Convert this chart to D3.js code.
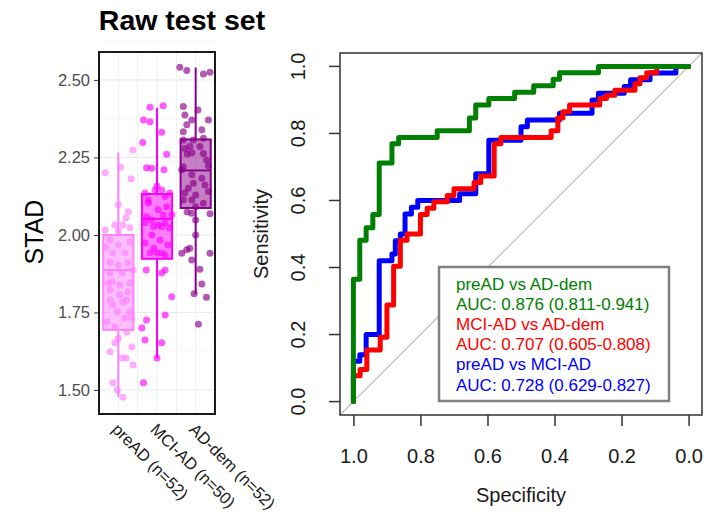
<!DOCTYPE html>
<html>
<head>
<meta charset="utf-8">
<script src="https://cdn.jsdelivr.net/npm/d3@7"></script>
<style>
  body { margin: 0; background: #fff; }
  svg { font-family: "Liberation Sans", Arial, sans-serif; }
</style>
</head>
<body>
<div id="chart"></div>
<script>
// ---- boxplot data (STAD per group) ----
const groups = ["preAD (n=52)", "MCI-AD (n=50)", "AD-dem (n=52)"];
const groupColors = ["#ff80ff", "#ff00ff", "#8b008b"];
const whiskerLow = [1.477, 1.603, 1.810];
const boxQ1 = [1.694, 1.923, 2.087];
const boxMedian = [1.887, 2.052, 2.208];
const boxQ3 = [2.000, 2.132, 2.308];
const whiskerHigh = [2.266, 2.410, 2.540];
const stadTicks = [1.50, 1.75, 2.00, 2.25, 2.50];

// jittered points: value and jitter (fraction of category step)
const preADValues = [2.201, 2.218, 2.274, 2.181, 2.097, 2.075, 2.055, 2.032, 2.016, 2.032,
  2.023, 1.984, 1.968, 1.942, 1.942, 1.911, 1.903, 1.910, 1.887, 1.877,
  1.877, 1.848, 1.839, 1.823, 1.816, 1.790, 1.784, 1.790, 1.752, 1.752,
  1.732, 1.719, 1.703, 1.687, 1.668, 1.652, 1.639, 1.623, 1.603, 1.603,
  1.581, 1.523, 1.500, 1.477, 1.961, 1.977, 1.806, 1.845, 1.732, 1.774,
  1.845, 2.013];
const preADJitter = [-0.34, 0.06, 0.38, 0.33, 0.00, 0.26, 0.20, -0.09, -0.34, 0.12,
  0.30, -0.21, 0.00, -0.14, 0.17, -0.21, 0.00, 0.25, 0.38, -0.21,
  0.10, -0.16, 0.04, -0.21, 0.25, -0.21, 0.12, 0.22, -0.03, 0.30,
  0.35, -0.29, -0.09, 0.22, 0.00, -0.09, 0.35, -0.21, 0.10, 0.20,
  0.38, -0.14, -0.03, 0.12, -0.32, 0.30, 0.04, -0.26, 0.17, -0.14,
  0.30, 0.00];
const mciValues = [2.412, 2.417, 2.371, 2.365, 2.331, 2.298, 2.260, 2.217, 2.215, 2.210,
  2.158, 2.145, 2.145, 2.135, 2.135, 2.124, 2.103, 2.091, 2.059, 2.065,
  2.065, 2.048, 2.039, 2.032, 2.027, 2.027, 2.039, 1.974, 1.942, 1.942,
  1.942, 1.935, 1.887, 1.887, 1.877, 1.801, 1.726, 1.742, 1.700, 1.661,
  1.652, 1.603, 1.523, 1.984, 2.000, 1.968, 2.113, 2.081, 1.958, 2.023];
const mciJitter = [-0.18, 0.16, -0.35, -0.18, 0.12, -0.37, 0.25, -0.27, -0.14, 0.18,
  0.00, -0.05, 0.12, -0.31, 0.33, 0.21, -0.22, 0.25, -0.27, 0.16,
  0.38, -0.14, -0.31, 0.03, -0.09, 0.12, 0.21, -0.31, -0.18, 0.00,
  0.12, 0.21, -0.28, 0.21, 0.12, 0.38, -0.27, 0.21, -0.39, -0.31,
  0.12, 0.00, -0.35, 0.08, -0.13, 0.28, -0.23, 0.03, -0.08, 0.31];
const adValues = [2.541, 2.530, 2.519, 2.525, 2.414, 2.387, 2.371, 2.371, 2.355, 2.333,
  2.339, 2.306, 2.306, 2.312, 2.279, 2.285, 2.285, 2.263, 2.261, 2.265,
  2.242, 2.220, 2.223, 2.210, 2.194, 2.167, 2.183, 2.151, 2.135, 2.129,
  2.113, 2.113, 2.102, 2.140, 2.091, 2.070, 2.048, 2.000, 1.941, 1.952,
  1.957, 1.941, 1.919, 1.889, 1.842, 1.810, 1.799, 1.712, 2.403, 2.161,
  2.074, 2.068];
const adJitter = [-0.41, -0.23, 0.20, 0.37, -0.32, -0.28, -0.10, 0.33, -0.23, -0.32,
  0.16, -0.32, -0.06, 0.20, -0.28, -0.15, 0.11, 0.20, -0.22, -0.10,
  0.28, -0.32, 0.33, -0.36, -0.10, -0.06, 0.16, -0.19, -0.28, 0.00,
  -0.32, -0.10, 0.20, 0.33, 0.00, -0.10, 0.00, 0.00, -0.36, -0.23,
  -0.15, 0.37, -0.10, 0.11, 0.16, -0.04, 0.28, 0.07, 0.06, 0.24,
  -0.22, 0.37];
const groupValues = [preADValues, mciValues, adValues];
const groupJitter = [preADJitter, mciJitter, adJitter];

// ---- ROC curves: [specificity, sensitivity] ----
const rocPreVsAD = [[1, 0], [1, 0.365], [0.981, 0.481], [0.962, 0.519], [0.942, 0.558],
  [0.923, 0.712], [0.885, 0.769], [0.865, 0.788], [0.75, 0.808], [0.654, 0.846],
  [0.635, 0.885], [0.596, 0.904], [0.519, 0.923], [0.462, 0.942], [0.404, 0.962],
  [0.385, 0.981], [0.269, 1.0], [0, 1.0]];
const rocMciVsAD = [[1, 0], [1, 0.077], [0.98, 0.096], [0.96, 0.154], [0.92, 0.192],
  [0.90, 0.288], [0.88, 0.404], [0.86, 0.481], [0.84, 0.50], [0.80, 0.558],
  [0.78, 0.577], [0.76, 0.596], [0.72, 0.615], [0.70, 0.635], [0.64, 0.654],
  [0.62, 0.673], [0.58, 0.769], [0.56, 0.788], [0.41, 0.808], [0.39, 0.846],
  [0.375, 0.865], [0.355, 0.885], [0.265, 0.904], [0.245, 0.914], [0.22, 0.929],
  [0.16, 0.948], [0.145, 0.966], [0.125, 0.981], [0.095, 1.0], [0, 1.0]];
const rocPreVsMci = [[1, 0], [1, 0.12], [0.981, 0.14], [0.962, 0.20], [0.923, 0.42],
  [0.885, 0.44], [0.875, 0.48], [0.86, 0.50], [0.846, 0.56], [0.827, 0.58],
  [0.808, 0.60], [0.683, 0.62], [0.635, 0.68], [0.596, 0.78], [0.50, 0.82],
  [0.481, 0.84], [0.385, 0.86], [0.288, 0.90], [0.269, 0.92], [0.192, 0.94],
  [0.173, 0.96], [0.115, 0.98], [0.038, 1.0], [0, 1.0]];
const rocTicks = [1.0, 0.8, 0.6, 0.4, 0.2, 0.0];
const legendLines = ["preAD vs AD-dem", "AUC: 0.876 (0.811-0.941)",
  "MCI-AD vs AD-dem", "AUC: 0.707 (0.605-0.808)",
  "preAD vs MCI-AD", "AUC: 0.728 (0.629-0.827)"];
const legendColors = ["#008000", "#008000", "#ff0000", "#ff0000", "#0000ff", "#0000ff"];

const width = 704, height = 514;
const svg = d3.select("#chart").append("svg")
  .attr("width", width).attr("height", height);

// ================= left panel: boxplot =================
const y = d3.scaleLinear().domain([1.4226, 2.590]).range([414, 52]);
const x = d3.scalePoint().domain(groups).range([99, 215]).padding(0.5);
const step = x.step();
const boxW = step * 0.78;

const left = svg.append("g");

// grid
const minorVals = d3.pairs(stadTicks).map(p => (p[0] + p[1]) / 2).concat([2.625]);
left.selectAll(".gminor").data(minorVals).join("line")
  .attr("x1", 99).attr("x2", 215)
  .attr("y1", d => y(d)).attr("y2", d => y(d))
  .attr("stroke", "#f4f4f4").attr("stroke-width", 0.8);
left.selectAll(".gmajor").data(stadTicks).join("line")
  .attr("x1", 99).attr("x2", 215)
  .attr("y1", d => y(d)).attr("y2", d => y(d))
  .attr("stroke", "#ebebeb").attr("stroke-width", 1.2);
const vGrid = groups.map(g => x(g)).concat([x(groups[0]) + step / 2, x(groups[1]) + step / 2]);
left.selectAll(".vgrid").data(vGrid).join("line")
  .attr("x1", d => d).attr("x2", d => d)
  .attr("y1", 52).attr("y2", 414)
  .attr("stroke", "#efefef").attr("stroke-width", 1);

// boxes
groups.forEach((g, i) => {
  const cx = x(g), col = groupColors[i];
  const box = left.append("g");
  box.append("line")
    .attr("x1", cx).attr("x2", cx)
    .attr("y1", y(boxQ3[i])).attr("y2", y(whiskerHigh[i]))
    .attr("stroke", col).attr("stroke-width", 2);
  box.append("line")
    .attr("x1", cx).attr("x2", cx)
    .attr("y1", y(boxQ1[i])).attr("y2", y(whiskerLow[i]))
    .attr("stroke", col).attr("stroke-width", 2);
  box.append("rect")
    .attr("x", cx - boxW / 2).attr("width", boxW)
    .attr("y", y(boxQ3[i])).attr("height", y(boxQ1[i]) - y(boxQ3[i]))
    .attr("fill", col).attr("fill-opacity", 0.5)
    .attr("stroke", col).attr("stroke-width", 2);
  box.append("line")
    .attr("x1", cx - boxW / 2).attr("x2", cx + boxW / 2)
    .attr("y1", y(boxMedian[i])).attr("y2", y(boxMedian[i]))
    .attr("stroke", col).attr("stroke-width", 2);
});

// jittered points
groups.forEach((g, i) => {
  left.append("g").selectAll("circle")
    .data(groupValues[i].map((v, k) => ({ v, j: groupJitter[i][k] })))
    .join("circle")
    .attr("cx", d => x(g) + d.j * step)
    .attr("cy", d => y(d.v))
    .attr("r", 3.5)
    .attr("fill", groupColors[i])
    .attr("fill-opacity", 0.65);
});

// frame
left.append("rect")
  .attr("x", 99).attr("y", 52).attr("width", 116).attr("height", 362)
  .attr("fill", "none").attr("stroke", "#1a1a1a").attr("stroke-width", 2);

// y axis
const yAxis = left.append("g")
  .attr("transform", "translate(98,0)")
  .call(d3.axisLeft(y).tickValues(stadTicks).tickFormat(d3.format(".2f")).tickSize(4).tickPadding(4));
yAxis.select(".domain").remove();
yAxis.selectAll("line").attr("stroke", "#333");
yAxis.selectAll("text").attr("fill", "#4d4d4d").style("font-size", "16.5px")
  .style("font-family", "'Liberation Sans', Arial, sans-serif");

// x category labels
left.selectAll(".cat").data(groups).join("text")
  .attr("transform", d => `translate(${x(d) + 1},422) rotate(45)`)
  .attr("dy", "0.72em")
  .attr("fill", "#1a1a1a")
  .style("font-size", "16.5px")
  .text(d => d);

left.append("text")
  .attr("transform", "translate(43,232) rotate(-90)")
  .attr("text-anchor", "middle")
  .style("font-size", "25px")
  .text("STAD");

svg.append("text")
  .attr("x", 182).attr("y", 30)
  .attr("text-anchor", "middle")
  .style("font-size", "28.5px").style("font-weight", "bold")
  .text("Raw test set");

// ================= right panel: ROC =================
const sx = d3.scaleLinear().domain([1.04, -0.04]).range([340, 702]);
const sy = d3.scaleLinear().domain([-0.04, 1.04]).range([415, 53]);
const right = svg.append("g");

// diagonal
right.append("line")
  .attr("x1", sx(1.04)).attr("y1", sy(-0.04))
  .attr("x2", sx(-0.04)).attr("y2", sy(1.04))
  .attr("stroke", "#bebebe").attr("stroke-width", 1.2);

const line = d3.line()
  .x(d => sx(d[0])).y(d => sy(d[1]))
  .curve(d3.curveStepAfter);
[[rocPreVsMci, "#0000ff"], [rocMciVsAD, "#ff0000"], [rocPreVsAD, "#008000"]].forEach(([data, col]) => {
  right.append("path")
    .datum(data)
    .attr("d", line)
    .attr("fill", "none")
    .attr("stroke", col)
    .attr("stroke-width", 5)
    .attr("stroke-linejoin", "round")
    .attr("stroke-linecap", "round");
});

// legend
right.append("rect")
  .attr("x", 439).attr("y", 267).attr("width", 230).attr("height", 134)
  .attr("fill", "#fff").attr("stroke", "#808080").attr("stroke-width", 2.5);
right.selectAll(".leg").data(legendLines).join("text")
  .attr("x", 456)
  .attr("y", (d, i) => 289.5 + i * 20.2)
  .attr("fill", (d, i) => legendColors[i])
  .style("font-size", "17px")
  .text(d => d);

// frame
right.append("rect")
  .attr("x", 340).attr("y", 53).attr("width", 362).attr("height", 362)
  .attr("fill", "none").attr("stroke", "#333").attr("stroke-width", 1.5);

// axes
const xAxis = right.append("g")
  .attr("transform", "translate(0,415)")
  .call(d3.axisBottom(sx).tickValues(rocTicks).tickFormat(d3.format(".1f")).tickSize(11).tickPadding(23));
xAxis.select(".domain").remove();
xAxis.selectAll("line").attr("stroke", "#333").attr("stroke-width", 1.5);
xAxis.selectAll("text").attr("fill", "#1a1a1a").style("font-size", "20px")
  .style("font-family", "'Liberation Sans', Arial, sans-serif");

const yTicksG = right.append("g");
yTicksG.selectAll("line").data(rocTicks).join("line")
  .attr("x1", 329).attr("x2", 340)
  .attr("y1", d => sy(d)).attr("y2", d => sy(d))
  .attr("stroke", "#333").attr("stroke-width", 1.5);
yTicksG.selectAll("text").data(rocTicks).join("text")
  .attr("transform", d => `translate(305,${sy(d)}) rotate(-90)`)
  .attr("text-anchor", "middle")
  .attr("fill", "#1a1a1a")
  .style("font-size", "20px")
  .text(d => d3.format(".1f")(d));

right.append("text")
  .attr("transform", "translate(268,234) rotate(-90)")
  .attr("text-anchor", "middle")
  .attr("fill", "#1a1a1a")
  .style("font-size", "20px")
  .text("Sensitivity");
right.append("text")
  .attr("x", 521).attr("y", 502)
  .attr("text-anchor", "middle")
  .attr("fill", "#1a1a1a")
  .style("font-size", "20px")
  .text("Specificity");
</script>
</body>
</html>
